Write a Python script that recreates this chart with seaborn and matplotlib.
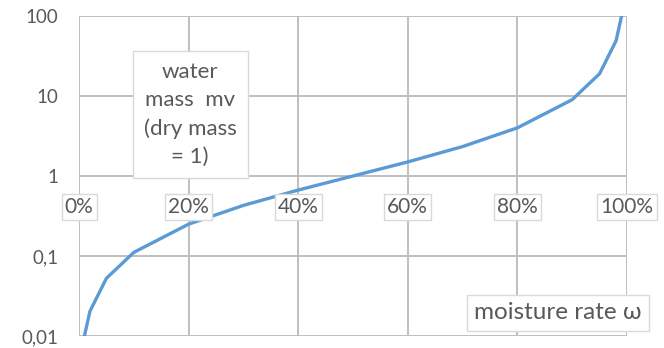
import matplotlib
matplotlib.use("Agg")
import matplotlib.pyplot as plt
import seaborn as sns
import pandas as pd

# moisture rate (fraction of total mass) and water mass per unit dry mass
omega = [0.01, 0.02, 0.05, 0.1, 0.2, 0.3, 0.4, 0.5, 0.6, 0.7, 0.8, 0.9, 0.95, 0.98, 0.99]
water_mass = [0.0101, 0.0204, 0.0526, 0.111, 0.25, 0.429, 0.667, 1.0, 1.5, 2.333, 4.0, 9.0, 19.0, 49.0, 99.0]

x_ticks = [0.0, 0.2, 0.4, 0.6, 0.8, 1.0]
x_labels = ["0%", "20%", "40%", "60%", "80%", "100%"]
y_ticks = [0.01, 0.1, 1, 10, 100]
y_labels = ["0,01", "0,1", "1", "10", "100"]

sns.set_style("white")
plt.rcParams["font.family"] = ["Lato", "DejaVu Sans"]

text_color = "#595959"
grid_color = "#bfbfbf"
edge_color = "#d9d9d9"

fig = plt.figure(figsize=(6.64, 3.48), dpi=100)
ax = fig.add_axes([79 / 664, 1 - 336 / 348, (627 - 79) / 664, (336 - 16) / 348])

df = pd.DataFrame({"omega": omega, "mv": water_mass})
sns.lineplot(data=df, x="omega", y="mv", ax=ax, color="#5b9bd5", linewidth=2.4, zorder=3)

ax.set_yscale("log")
ax.set_xlim(0, 1)
ax.set_ylim(0.01, 100)

ax.set_xticks(x_ticks)
ax.set_xticklabels([])
ax.set_yticks(y_ticks)
ax.set_yticklabels(y_labels, color=text_color, fontsize=13.5)
ax.minorticks_off()
ax.tick_params(axis="y", length=0, pad=15)
ax.tick_params(axis="x", length=0, pad=0)
ax.set_xlabel("")
ax.set_ylabel("")

ax.grid(True, which="major", color=grid_color, linewidth=1.4)
for s in ax.spines.values():
    s.set_visible(False)

# percentage labels sit just under the mv = 1 line
for xv, lab in zip(x_ticks, x_labels):
    ax.text(xv, 0.41, lab, ha="center", va="center", fontsize=15, color=text_color,
            bbox=dict(boxstyle="square,pad=0.15", facecolor="white", edgecolor=edge_color, linewidth=1.0),
            zorder=4, clip_on=False)

ax.text(0.203, 5.9, "water\nmass  mv\n(dry mass\n= 1)", ha="center", va="center",
        fontsize=16, color=text_color, linespacing=1.5,
        bbox=dict(boxstyle="square,pad=0.5", facecolor="white", edgecolor=edge_color, linewidth=1.0),
        zorder=4, clip_on=False)

ax.text(0.874, 0.0195, "moisture rate \u03c9", ha="center", va="center",
        fontsize=17.5, color=text_color,
        bbox=dict(boxstyle="square,pad=0.3", facecolor="white", edgecolor=edge_color, linewidth=1.0),
        zorder=4, clip_on=False)

fig.savefig("out.png", dpi=100)
